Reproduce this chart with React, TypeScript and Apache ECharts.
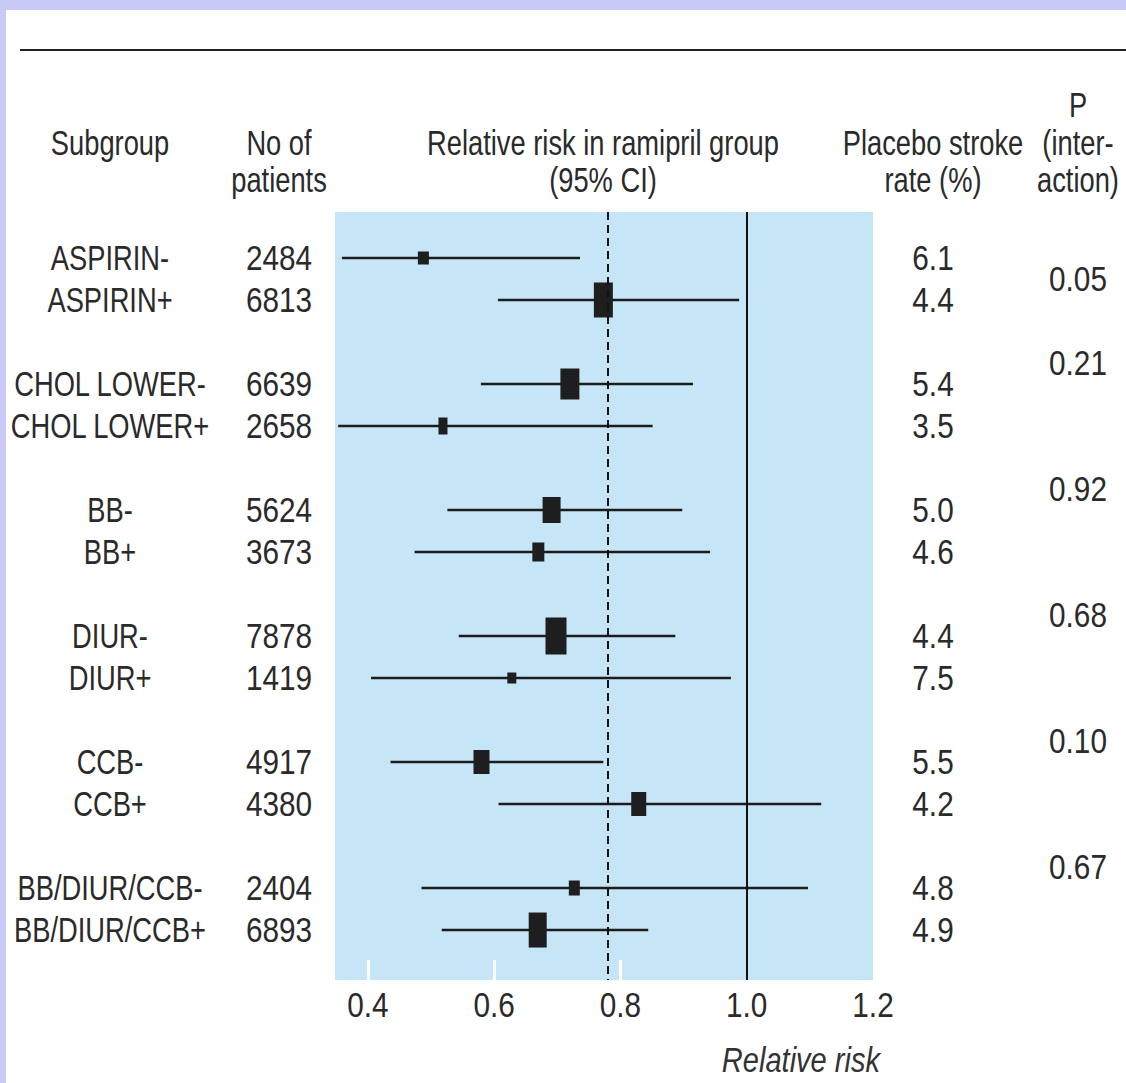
import React, { useEffect, useRef } from 'react';
import * as echarts from 'echarts';

const subgroups = [
  'ASPIRIN-', 'ASPIRIN+', 'CHOL LOWER-', 'CHOL LOWER+', 'BB-', 'BB+',
  'DIUR-', 'DIUR+', 'CCB-', 'CCB+', 'BB/DIUR/CCB-', 'BB/DIUR/CCB+',
];
const patients = [2484, 6813, 6639, 2658, 5624, 3673, 7878, 1419, 4917, 4380, 2404, 6893];
const relativeRisk = [0.488, 0.773, 0.72, 0.519, 0.691, 0.67, 0.698, 0.628, 0.58, 0.829, 0.727, 0.669];
const ciLow = [0.359, 0.606, 0.579, 0.353, 0.526, 0.474, 0.544, 0.405, 0.436, 0.607, 0.485, 0.517];
const ciHigh = [0.736, 0.988, 0.915, 0.851, 0.898, 0.942, 0.887, 0.975, 0.773, 1.118, 1.097, 0.844];
const placeboRate = ['6.1', '4.4', '5.4', '3.5', '5.0', '4.6', '4.4', '7.5', '5.5', '4.2', '4.8', '4.9'];
const pInteraction = ['0.05', '0.21', '0.92', '0.68', '0.10', '0.67'];
const overallRR = 0.78;
const xTicks = [0.4, 0.6, 0.8, 1.0, 1.2];

// box sizes (style): [width, height] in px
const boxSizes = [
  [11, 13], [19, 35], [19, 31], [9, 17], [18, 26], [12, 19],
  [21, 37], [9, 11], [16, 24], [15, 24], [11, 15], [18, 35],
];

const FONT = '"Liberation Sans", Arial, sans-serif';
const TXT = '#2a2a2a';
const FS = 35;
const SX_WORD = 0.78;
const SX_NUM = 0.85;

const rowPos = (i: number) => i + Math.floor(i / 2);
const pPos = (g: number) => (g === 0 ? 0.5 : 3 * g - 0.5);

const Y_MIN = -1.095;
const Y_MAX = 17.19;
const TOP = 212;
const HEIGHT = 768;

export default function App() {
  const ref = useRef<HTMLDivElement>(null);
  useEffect(() => {
    const chart = echarts.init(ref.current!, null, { renderer: 'svg' });

    const colGrids = [
      { left: 20, width: 180 },
      { left: 240, width: 78 },
      { left: 893, width: 80 },
      { left: 1040, width: 76 },
    ];
    const grids: any[] = [
      { left: 335, top: TOP, width: 538, height: HEIGHT, show: true, backgroundColor: '#c6e6f8', borderWidth: 0 },
      ...colGrids.map((g) => ({ left: g.left, width: g.width, top: TOP, height: HEIGHT })),
    ];
    const xAxes: any[] = [
      {
        type: 'value', gridIndex: 0, min: 0.348, max: 1.2,
        axisLine: { show: false, onZero: false }, splitLine: { show: false },
        axisTick: { show: true, inside: true, length: 20, customValues: [0.4, 0.6, 0.8], lineStyle: { color: '#ffffff', width: 3 } },
        axisLabel: { show: false },
      },
      ...colGrids.map((_, k) => ({ type: 'value', gridIndex: k + 1, min: 0, max: 1, show: false })),
    ];
    const yAxes: any[] = grids.map((_, k) => ({
      type: 'value', gridIndex: k, min: Y_MIN, max: Y_MAX, inverse: true, show: false,
    }));

    const textSeries = (k: number, data: any[], sx: number, dy = 0, italic = false) => ({
      type: 'custom', xAxisIndex: k, yAxisIndex: k, silent: true, clip: false,
      data,
      encode: { x: 0, y: 1 },
      renderItem: (params: any, api: any) => {
        const d = data[params.dataIndex];
        const c = api.coord([d[0], d[1]]);
        return {
          type: 'text', x: c[0], y: c[1] + dy, scaleX: sx,
          style: {
            text: d[2], fill: TXT, fontSize: FS, fontFamily: FONT,
            fontStyle: italic ? 'italic' : 'normal',
            align: 'center', verticalAlign: 'middle',
          },
        };
      },
    });

    const headers: [string, number, number][] = [
      ['Subgroup', 110, 143],
      ['No of', 279, 143], ['patients', 279, 180],
      ['Relative risk in ramipril group', 603, 143], ['(95% CI)', 603, 180],
      ['Placebo stroke', 933, 143], ['rate (%)', 933, 180],
      ['P', 1078, 105], ['(inter-', 1078, 143], ['action)', 1078, 180],
    ];

    const option: any = {
      animation: false,
      backgroundColor: '#ffffff',
      grid: grids,
      xAxis: xAxes,
      yAxis: yAxes,
      series: [
        {
          type: 'custom', xAxisIndex: 0, yAxisIndex: 0,
          data: subgroups.map((_, i) => [rowPos(i), ciLow[i], ciHigh[i], relativeRisk[i], boxSizes[i][0], boxSizes[i][1]]),
          encode: { x: [1, 2, 3], y: 0 },
          renderItem: (params: any, api: any) => {
            const y = api.value(0);
            const l = api.coord([api.value(1), y]);
            const h = api.coord([api.value(2), y]);
            const p = api.coord([api.value(3), y]);
            const bw = api.value(4);
            const bh = api.value(5);
            return {
              type: 'group',
              children: [
                { type: 'line', shape: { x1: l[0], y1: l[1], x2: h[0], y2: h[1] }, style: { stroke: '#1c1c1c', lineWidth: 2.5 } },
                { type: 'rect', shape: { x: p[0] - bw / 2, y: p[1] - bh / 2, width: bw, height: bh }, style: { fill: '#1e1e1e' } },
              ],
            };
          },
          markLine: {
            silent: true, symbol: 'none', label: { show: false },
            data: [
              { xAxis: overallRR, lineStyle: { type: [8, 5], color: '#111111', width: 2 } },
              { xAxis: 1.0, lineStyle: { type: 'solid', color: '#111111', width: 2 } },
            ],
          },
          z: 3,
        },
        // tick labels below the plot
        textSeries(0, xTicks.map((v) => [v, Y_MAX, v.toFixed(1)]), SX_NUM, 25),
        textSeries(1, subgroups.map((s, i) => [0.5, rowPos(i), s]), SX_WORD),
        textSeries(2, patients.map((n, i) => [0.5, rowPos(i), String(n)]), SX_NUM),
        textSeries(3, placeboRate.map((r, i) => [0.5, rowPos(i), r]), SX_NUM),
        textSeries(4, pInteraction.map((pv, g) => [0.5, pPos(g), pv]), SX_NUM),
      ],
      graphic: [
        { type: 'rect', shape: { x: 0, y: 0, width: 1126, height: 10 }, style: { fill: '#cacaf8' } },
        { type: 'rect', shape: { x: 0, y: 0, width: 6, height: 1083 }, style: { fill: '#cacaf8' } },
        { type: 'line', shape: { x1: 20, y1: 50, x2: 1126, y2: 50 }, style: { stroke: '#222222', lineWidth: 2 } },
        ...headers.map(([t, x, y]) => ({
          type: 'text', x, y, scaleX: SX_WORD,
          style: { text: t, fill: TXT, fontSize: FS, fontFamily: FONT, align: 'center', verticalAlign: 'middle' },
        })),
        {
          type: 'text', x: 880, y: 1060, scaleX: 0.83,
          style: { text: 'Relative risk', fill: '#333333', fontSize: FS, fontFamily: FONT, fontStyle: 'italic', align: 'right', verticalAlign: 'middle' },
        },
      ],
    };
    chart.setOption(option);
    return () => chart.dispose();
  }, []);
  return <div ref={ref} style={{ position: 'fixed', left: 0, top: 0, width: 1126, height: 1083 }} />;
}
